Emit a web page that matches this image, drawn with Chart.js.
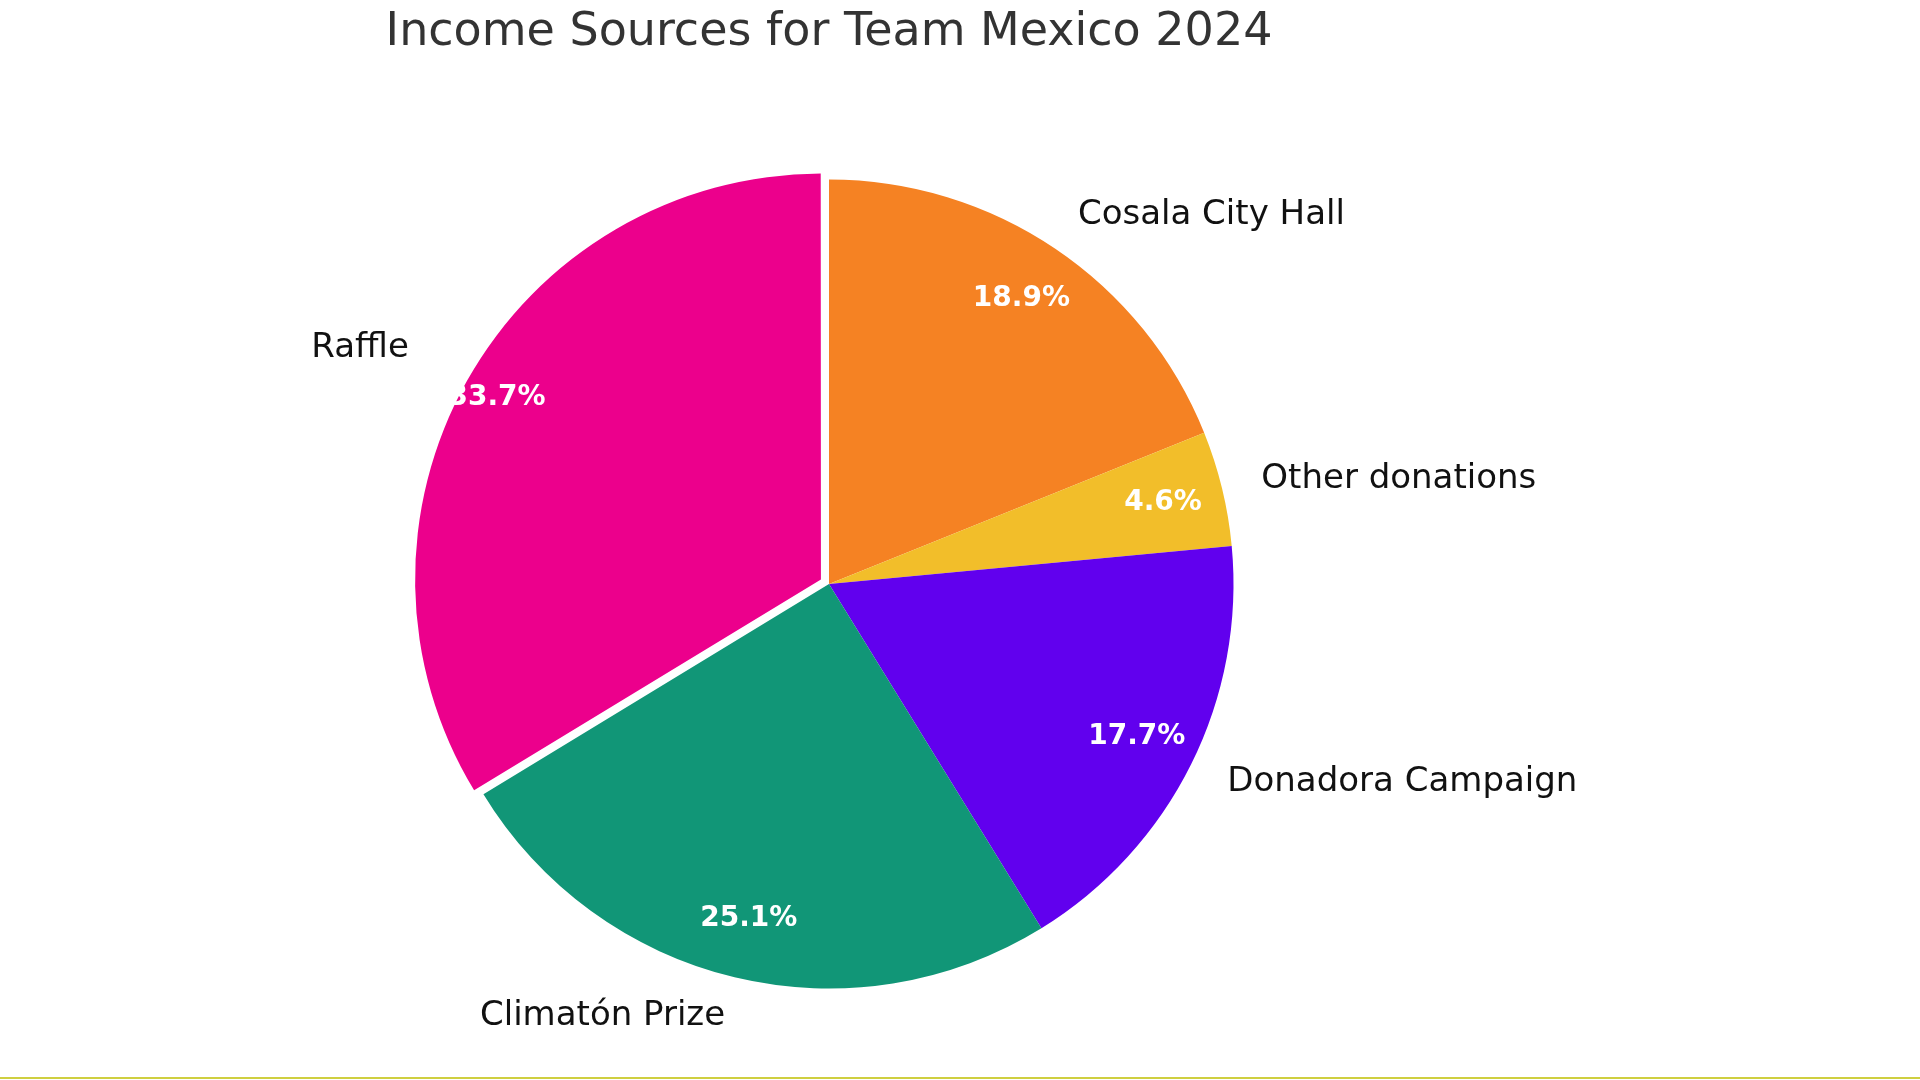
<!DOCTYPE html>
<html><head><meta charset="utf-8">
<script src="https://cdn.jsdelivr.net/npm/chart.js@4"></script>
<style>html,body{margin:0;padding:0;background:#fff}#w{width:1920px;height:1080px;position:relative}</style>
</head><body><div id="w"><canvas id="c"></canvas></div>
<script>
const categories=["Cosala City Hall","Other donations","Donadora Campaign","Climatón Prize","Raffle"];
const values=[18.9,4.6,17.7,25.1,33.7];
const colors=["#F58223","#F2BE2A","#6100EE","#119677","#EC008C"];
const titleText="Income Sources for Team Mexico 2024";
const F="'DejaVu Sans', sans-serif";
const labelsPlugin={id:'lbl',afterDraw(ch){
  const ctx=ch.ctx, meta=ch.getDatasetMeta(0);
  ctx.save();
  ctx.fillStyle='#333';ctx.font='46px '+F;ctx.textAlign='center';ctx.textBaseline='middle';
  ctx.fillText(titleText,829,33);
  meta.data.forEach((a,i)=>{
    const p=a.getProps(['x','y','startAngle','endAngle','outerRadius']);
    const m=(p.startAngle+p.endAngle)/2, r=p.outerRadius;
    const off=ch.data.datasets[0].offset[i]||0;
    const cx=p.x+Math.cos(m)*off, cy=p.y+Math.sin(m)*off;
    ctx.font='bold 28px '+F;ctx.fillStyle='#fff';ctx.textAlign='center';
    ctx.fillText(values[i].toFixed(1)+'%',cx+Math.cos(m)*r*0.85,cy+Math.sin(m)*r*0.85);
    ctx.font='34px '+F;ctx.fillStyle='#111';
    const lx=cx+Math.cos(m)*r*1.1, ly=cy+Math.sin(m)*r*1.1;
    ctx.textAlign=Math.cos(m)>=0?'left':'right';
    ctx.fillText(categories[i],lx,ly);
  });
  ctx.strokeStyle='#CFCF40';ctx.lineWidth=2;ctx.beginPath();ctx.moveTo(0,1078);ctx.lineTo(1920,1078);ctx.stroke();
  ctx.restore();
}};
new Chart(document.getElementById('c'),{type:'pie',
 data:{labels:categories,datasets:[{data:values,backgroundColor:colors,borderWidth:0,offset:[0,0,0,0,37]}]},
 options:{responsive:true,maintainAspectRatio:false,animation:false,
  layout:{padding:{left:406,right:668,top:161,bottom:73}},
  plugins:{legend:{display:false},tooltip:{enabled:false},title:{display:false}}},
 plugins:[labelsPlugin]});
</script></body></html>
